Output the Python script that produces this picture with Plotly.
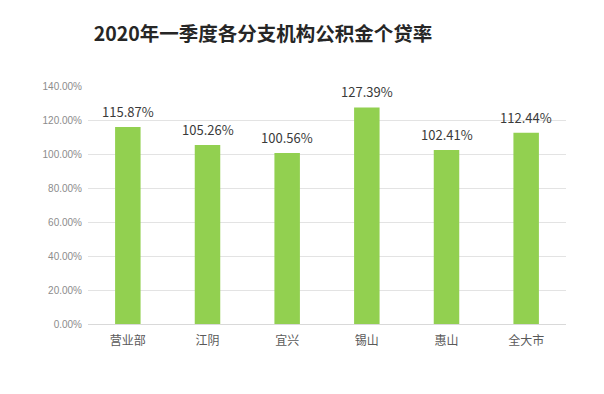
import plotly.graph_objects as go

categories = ["营业部", "江阴", "宜兴", "锡山", "惠山", "全大市"]
values = [115.87, 105.26, 100.56, 127.39, 102.41, 112.44]
tick_vals = [0, 20, 40, 60, 80, 100, 120, 140]
tick_text = ["0.00%", "20.00%", "40.00%", "60.00%", "80.00%", "100.00%", "120.00%", "140.00%"]
labels = [f"{v:.2f}%" for v in values]

font_cjk = "Noto Sans CJK SC"

fig = go.Figure()
fig.add_trace(go.Bar(
    x=categories, y=values,
    marker=dict(color="#92D050", line=dict(width=0)),
    hoverinfo="skip",
))

for c, v, t in zip(categories, values, labels):
    fig.add_annotation(x=c, y=v, text=t, showarrow=False, yanchor="bottom",
                       yshift=4, font=dict(family=font_cjk, size=13, color="#3a3a3a"))

fig.update_layout(
    width=604, height=394,
    paper_bgcolor="white", plot_bgcolor="white",
    margin=dict(l=88, r=38, t=86, b=70),
    bargap=0.68,
    showlegend=False,
    title=dict(text="<b>2020年一季度各分支机构公积金个贷率</b>", x=263/604, xanchor="center",
               y=1 - 34/394, yanchor="middle",
               font=dict(family=font_cjk, size=19.5, color="#262626")),
    xaxis=dict(showgrid=False, showline=True, linecolor="#d9d9d9", linewidth=1,
               ticks="", tickfont=dict(family=font_cjk, size=12, color="#595959"),
               ticklabelstandoff=6),
    yaxis=dict(range=[0, 140], tickvals=tick_vals, ticktext=tick_text,
               showgrid=True, gridcolor="#e3e3e3", gridwidth=1, zeroline=False,
               showline=False, ticks="", ticklabelstandoff=5,
               tickfont=dict(family="Liberation Sans", size=10, color="#8c8c8c")),
)

fig.write_html("out.html", config={"displayModeBar": False},
               post_script="document.body.style.margin='0';document.body.style.padding='0';")
